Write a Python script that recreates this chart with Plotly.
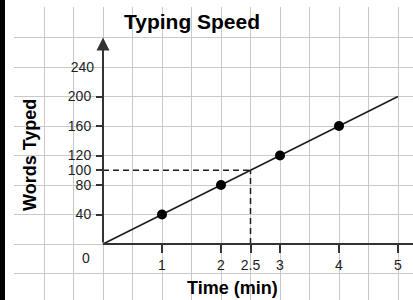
import plotly.graph_objects as go

# ---- data ----
time_points = [1, 2, 3, 4]
words_points = [40, 80, 120, 160]
line_time = [0, 5]
line_words = [0, 200]
ref_time = 2.5
ref_words = 100
x_tick_vals = [1, 2, 2.5, 3, 4, 5]
x_tick_text = ["1", "2", "2.5", "3", "4", "5"]
y_tick_vals = [40, 80, 100, 120, 160, 200]
y_tick_text = ["40", "80", "100", "120", "160", "200"]
y_top_label = [240]
axis_top = 280

W, H = 413, 300
ML, MT = 14, 7
PW, PH = W - ML, H - MT
PX_PER_X = 59.0
PX_PER_Y = 29.5 / 40
X0_PX, Y0_PX = 103, 244
xr = [-(X0_PX - ML) / PX_PER_X, -(X0_PX - ML) / PX_PER_X + PW / PX_PER_X]
yr = [-(H - Y0_PX) / PX_PER_Y, (Y0_PX - MT) / PX_PER_Y]
xpos = (X0_PX - ML) / PW
ypos = (H - Y0_PX) / PH

FONT = "Liberation Sans, Arial, sans-serif"
INK = "#1e1e1e"
GRID = "#c9c9c9"

fig = go.Figure()

# main line
fig.add_trace(go.Scatter(x=line_time, y=line_words, mode="lines",
                         line=dict(color=INK, width=1.6), hoverinfo="skip",
                         showlegend=False))
# dashed reference lines
fig.add_trace(go.Scatter(x=[0, ref_time], y=[ref_words, ref_words], mode="lines",
                         line=dict(color=INK, width=1.5, dash="6px,4px"),
                         showlegend=False))
fig.add_trace(go.Scatter(x=[ref_time, ref_time], y=[0, ref_words], mode="lines",
                         line=dict(color=INK, width=1.5, dash="6px,4px"),
                         showlegend=False))
# x axis line
fig.add_trace(go.Scatter(x=[0, xr[1] + 1], y=[0, 0], mode="lines",
                         line=dict(color="#333333", width=2), showlegend=False))
# points
fig.add_trace(go.Scatter(x=time_points, y=words_points, mode="markers",
                         marker=dict(color="black", size=10), showlegend=False))

# y axis line with arrow
fig.add_annotation(x=0, y=axis_top, ax=0, ay=0, xref="x", yref="y",
                   axref="x", ayref="y", text="", showarrow=True,
                   arrowhead=2, arrowsize=1.3, arrowwidth=2, arrowcolor="#333333")

# "0" label
fig.add_annotation(x=0, y=0, xref="x", yref="y", text="0", showarrow=False,
                   xshift=-17, yshift=-14, xanchor="center", yanchor="middle",
                   font=dict(family=FONT, size=14, color=INK))

# titles
fig.add_annotation(x=(30 - ML) / PW, y=(H - 155) / PH, xref="paper", yref="paper",
                   xanchor="center", yanchor="middle",
                   text="<b>Words Typed</b>", textangle=-90, showarrow=False,
                   font=dict(family=FONT, size=18, color="black"))
fig.add_annotation(x=(232 - ML) / PW, y=(H - 288) / PH, xref="paper", yref="paper",
                   xanchor="center", yanchor="middle",
                   text="<b>Time (min)</b>", showarrow=False,
                   font=dict(family=FONT, size=18, color="black"))

# black strip at left edge
fig.add_shape(type="rect", xref="paper", yref="paper",
              x0=-ML / PW, x1=-(ML - 5) / PW, y0=-0.01, y1=1 + MT / PH + 0.01,
              fillcolor="black", line=dict(width=0), layer="above")

tickfont = dict(family=FONT, size=14, color=INK)

fig.update_layout(
    width=W, height=H,
    margin=dict(l=ML, r=0, t=MT, b=0, pad=0),
    paper_bgcolor="white", plot_bgcolor="white",
    showlegend=False,
    title=dict(text="<b>Typing Speed</b>", x=192 / W, y=1 - 22 / H,
               xanchor="center", yanchor="middle", xref="container", yref="container",
               font=dict(family=FONT, size=21, color="black")),
    xaxis=dict(range=xr, dtick=0.5, tick0=0, showgrid=True, gridcolor=GRID,
               gridwidth=1, showticklabels=False, ticks="", zeroline=False,
               showline=False, fixedrange=True),
    yaxis=dict(range=yr, dtick=40, tick0=0, showgrid=True, gridcolor=GRID,
               gridwidth=1, showticklabels=False, ticks="", zeroline=False,
               showline=False, fixedrange=True),
    xaxis2=dict(range=xr, overlaying="x", anchor="free", position=ypos,
                side="bottom", tickmode="array", tickvals=x_tick_vals,
                ticktext=x_tick_text, ticks="outside", ticklen=8, tickwidth=1.5,
                tickcolor="#333333", showgrid=False, zeroline=False,
                showline=False, tickfont=tickfont, fixedrange=True),
    yaxis2=dict(range=yr, overlaying="y", anchor="free", position=xpos,
                side="left", tickmode="array", tickvals=y_tick_vals,
                ticktext=y_tick_text, ticks="outside", ticklen=7, tickwidth=1.5,
                tickcolor="#333333", showgrid=False, zeroline=False,
                showline=False, tickfont=tickfont, ticklabelstandoff=2,
                fixedrange=True),
    yaxis3=dict(range=yr, overlaying="y", anchor="free", position=xpos,
                side="left", tickmode="array", tickvals=y_top_label,
                ticks="", showgrid=False, zeroline=False, showline=False,
                tickfont=tickfont, ticklabelstandoff=9, fixedrange=True),
)

# dummy traces so overlay axes render
fig.add_trace(go.Scatter(x=[None], y=[None], xaxis="x2", yaxis="y2", showlegend=False))
fig.add_trace(go.Scatter(x=[None], y=[None], xaxis="x2", yaxis="y3", showlegend=False))

fig.write_html("out.html", config={"displayModeBar": False},
               post_script="document.body.style.margin='0px';")
